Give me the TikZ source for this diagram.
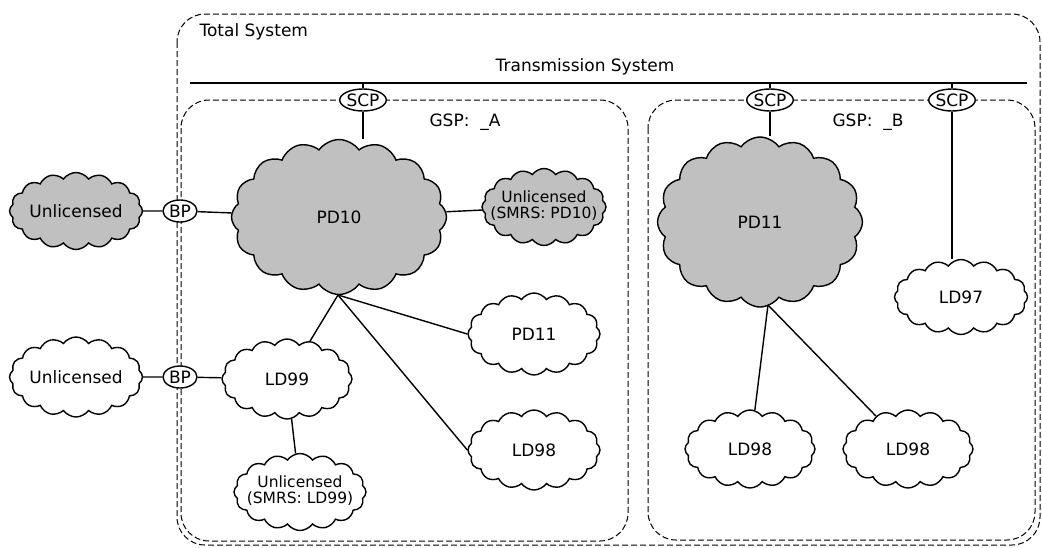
\documentclass[tikz,border=0pt]{standalone}
\usepackage{fontspec}
\setmainfont{DejaVu Sans}
\usetikzlibrary{shapes.symbols,shapes.geometric}
\definecolor{cloudgray}{RGB}{192,192,192}
\newcommand{\twoline}[2]{\makebox[0pt]{\begin{tabular}{@{}c@{}}#1\\[-2pt]#2\end{tabular}}}

\begin{document}
\begin{tikzpicture}[x=1pt, y=-1pt, font=\fontsize{17}{20}\selectfont,
    cloudG/.style={cloud, cloud puffs=16, cloud puff arc=110, cloud ignores aspect, draw, line width=1.4pt, fill=cloudgray, inner sep=0pt},
    cloudW/.style={cloudG, fill=white},
    small/.style={font=\fontsize{15.5}{18}\selectfont},
    port/.style={ellipse, draw, line width=1.4pt, fill=white, inner sep=0pt, minimum width=34, minimum height=22},
    link/.style={line width=1.4pt},
    frame/.style={dash pattern=on 6pt off 3pt, line width=1pt, rounded corners=28}]
    \useasboundingbox (0,0) rectangle (1042,547);

    % frames
    \draw[frame] (177,14) rectangle (1040,545);
    \draw[frame] (181,100) rectangle (628,541);
    \draw[frame] (648,100) rectangle (1035,540);
    \node[anchor=west] (total) at (196,32) {Total System};
    \node (trans) at (585,67) {Transmission System};
    \node (gspA) at (465,122) {GSP:\ \ \_A};
    \node (gspB) at (868,122) {GSP:\ \ \_B};

    % transmission line
    \coordinate (tl-w) at (190,83);
    \coordinate (tl-e) at (1027,83);
    \draw[link] (tl-w) -- (tl-e);

    % clouds of GSP A
    \node[cloudG, minimum width=215, minimum height=155] (pd10) at (339,217) {PD10};
    \node[cloudG, small, minimum width=124, minimum height=77] (unPD) at (544,207) {\twoline{Unlicensed}{(SMRS: PD10)}};
    \node[cloudW, minimum width=130, minimum height=80] (ld99) at (287,379) {LD99};
    \node[cloudW, small, minimum width=132, minimum height=77] (unLD) at (300,492) {\twoline{Unlicensed}{(SMRS: LD99)}};
    \node[cloudW, minimum width=132, minimum height=82] (pd11a) at (534,334) {PD11};
    \node[cloudW, minimum width=132, minimum height=80] (ld98a) at (534,450) {LD98};

    % clouds outside
    \node[cloudG, minimum width=133, minimum height=77] (unG) at (76,211) {Unlicensed};
    \node[cloudW, minimum width=133, minimum height=80] (unW) at (76,377) {Unlicensed};

    % clouds of GSP B
    \node[cloudG, minimum width=205, minimum height=170] (pd11b) at (760,222) {PD11};
    \node[cloudW, minimum width=133, minimum height=75] (ld97) at (961,297) {LD97};
    \node[cloudW, minimum width=130, minimum height=78] (ld98b) at (750,449) {LD98};
    \node[cloudW, minimum width=130, minimum height=78] (ld98c) at (908,449) {LD98};

    % ports
    \node[port, minimum width=42] (scpA) at (363,100) {SCP};
    \node[port, minimum width=42] (scpB) at (770,100) {SCP};
    \node[port, minimum width=42] (scpC) at (952,100) {SCP};
    \node[port] (bpA) at (180,211) {BP};
    \node[port] (bpB) at (180,377) {BP};

    % links
    \draw[link] (scpA.north) -- (scpA.north |- tl-w);
    \draw[link] (scpB.north) -- (scpB.north |- tl-w);
    \draw[link] (scpC.north) -- (scpC.north |- tl-w);
    \draw[link] (scpA.south) -- (scpA.south |- pd10.north);
    \draw[link] (scpB.south) -- (scpB.south |- pd11b.north);
    \draw[link] (scpC.south) -- (scpC.south |- ld97.north);

    \draw[link] (unG) -- (bpA) -- (pd10);
    \draw[link] (unW) -- (bpB) -- (ld99);
    \draw[link] (pd10) -- (unPD);
    \coordinate (pd10-s) at (338,295);
    \draw[link] (pd10-s) -- (ld99);
    \draw[link] (pd10-s) -- (pd11a.west);
    \draw[link] (pd10-s) -- (ld98a.west);
    \draw[link] (ld99) -- (unLD);
    \coordinate (pd11-s) at (768,305);
    \draw[link] (pd11-s) -- (ld98b);
    \draw[link] (pd11-s) -- (ld98c);
\end{tikzpicture}
\end{document}
